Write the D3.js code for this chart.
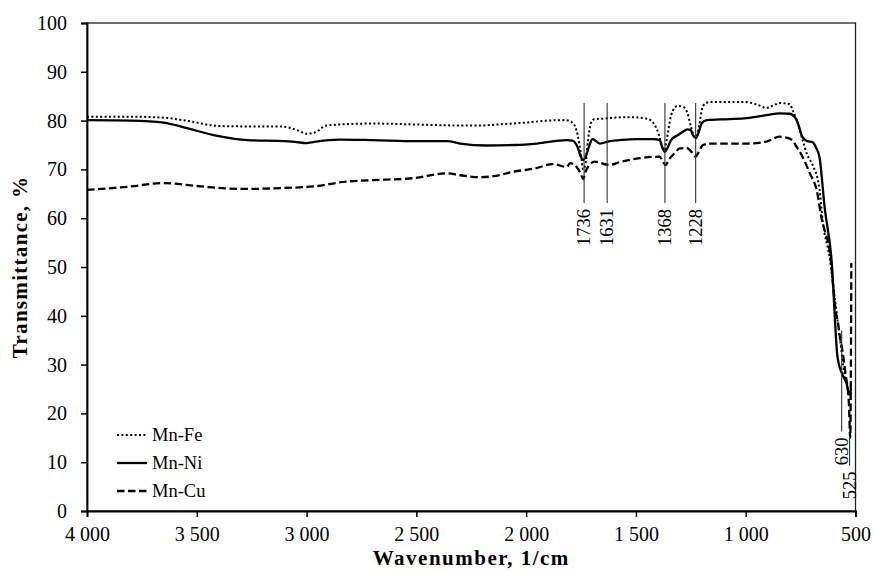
<!DOCTYPE html>
<html>
<head>
<meta charset="utf-8">
<script src="https://cdn.jsdelivr.net/npm/d3@7"></script>
<style>
  html, body { margin: 0; padding: 0; background: #fff; }
  svg { display: block; }
  text { font-family: "Liberation Serif", "Times New Roman", serif; fill: #000; }
</style>
</head>
<body>
<svg id="chart" width="874" height="572"></svg>
<script>
// ---------- data ----------
const seriesNames = ["Mn-Fe", "Mn-Ni", "Mn-Cu"];

// Mn-Fe (dotted): [wavenumber, transmittance %]
const mnFe = [
  [4000,80.8],[3800,80.8],[3650,80.6],[3550,80.0],[3400,78.9],[3250,78.8],[3120,78.8],
  [3040,78.0],[3000,77.3],[2960,77.6],[2910,79.0],[2800,79.3],[2700,79.4],[2500,79.2],
  [2300,79.0],[2210,79.0],[2100,79.3],[2000,79.6],[1900,80.0],[1820,80.1],[1790,79.6],
  [1765,77.0],[1750,73.0],[1740,70.0],[1730,71.0],[1718,76.0],[1705,79.5],[1690,80.3],
  [1650,80.4],[1600,80.6],[1520,80.7],[1450,80.4],[1420,79.5],[1395,77.0],[1380,74.5],
  [1370,74.0],[1360,76.0],[1345,80.0],[1333,82.0],[1310,83.0],[1285,82.8],[1265,81.5],
  [1248,78.5],[1235,76.8],[1225,76.6],[1212,79.0],[1195,83.0],[1164,83.8],[1100,83.8],
  [1000,83.8],[950,83.3],[905,82.6],[870,83.2],[846,83.6],[800,83.4],[785,82.0],
  [768,80.1],[741,76.0],[720,73.0],[696,71.0],[664,66.0],[650,59.6],[618,52.0],
  [590,42.0],[570,35.0],[550,28.0],[535,25.0],[525,24.0],[518,24.5]
];

// Mn-Ni (solid)
const mnNi = [
  [4000,80.1],[3800,80.0],[3650,79.6],[3550,78.5],[3400,76.8],[3270,76.0],[3100,75.8],
  [3045,75.6],[3000,75.4],[2970,75.6],[2900,76.0],[2850,76.1],[2700,76.0],[2500,75.8],
  [2360,75.8],[2300,75.3],[2180,74.9],[2050,75.0],[1950,75.3],[1815,76.0],[1790,75.9],
  [1765,74.5],[1750,72.5],[1740,71.9],[1730,72.5],[1715,74.5],[1698,76.2],[1688,76.0],
  [1665,75.3],[1620,75.8],[1574,76.0],[1500,76.2],[1420,76.2],[1392,76.0],[1380,74.5],
  [1368,73.6],[1355,74.5],[1340,76.0],[1310,77.0],[1290,77.6],[1265,78.2],[1250,78.0],
  [1240,77.0],[1228,76.4],[1215,77.5],[1200,79.5],[1178,80.1],[1073,80.3],[996,80.5],
  [905,81.1],[846,81.5],[800,81.4],[768,80.1],[741,76.6],[720,75.8],[696,75.6],
  [680,74.5],[664,72.5],[640,62.0],[609,51.4],[582,31.6],[560,28.0],[541,26.2],
  [527,23.8],[520,25.0]
];

// Mn-Cu (dashed)
const mnCu = [
  [4000,65.8],[3800,66.5],[3655,67.2],[3500,66.6],[3400,66.2],[3270,66.0],[3100,66.2],
  [2970,66.5],[2820,67.5],[2700,67.8],[2515,68.2],[2360,69.2],[2300,68.8],[2210,68.4],
  [2150,68.6],[2060,69.5],[1950,70.3],[1880,71.1],[1815,70.5],[1800,71.3],[1770,70.5],
  [1750,69.0],[1740,68.0],[1730,69.5],[1710,71.0],[1688,71.6],[1620,70.9],[1574,71.5],
  [1483,72.3],[1392,72.6],[1380,71.8],[1365,70.9],[1350,72.0],[1320,73.5],[1301,74.3],
  [1270,74.4],[1245,73.5],[1228,72.6],[1215,73.5],[1195,75.0],[1164,75.3],[996,75.3],
  [905,75.7],[846,76.7],[800,76.3],[780,75.5],[768,74.6],[741,72.6],[709,69.3],
  [677,65.8],[650,59.0],[641,57.6],[618,53.5],[590,41.0],[578,38.0],[572,36.0],
  [560,33.0],[545,28.0],[530,22.0],[524,15.0],[521,30.0],[519,50.8]
];

const xTicks = [4000, 3500, 3000, 2500, 2000, 1500, 1000, 500];
const yTicks = [0, 10, 20, 30, 40, 50, 60, 70, 80, 90, 100];

// peak markers: label, wavenumber where the marker is drawn, top and bottom (transmittance %)
const peakLabels  = ["1736", "1631", "1368", "1228", "630", "525"];
const peakWn      = [1736, 1631, 1368, 1228, 563, 527];
const peakTop     = [83.6, 83.6, 83.6, 83.6, 37.0, 15.0];
const peakBottom  = [63.1, 63.1, 63.1, 63.1, 16.3, 9.3];

// ---------- chart ----------
const svg = d3.select("#chart");
const margin = { left: 87, right: 874 - 855.5, top: 23, bottom: 572 - 511 };
const W = 874, H = 572;

const x = d3.scaleLinear().domain([4000, 500]).range([margin.left, W - margin.right]);
const y = d3.scaleLinear().domain([0, 100]).range([H - margin.bottom, margin.top]);

const loc = d3.formatLocale({ decimal: ".", thousands: " ", grouping: [3], currency: ["", ""] });
const fmt = loc.format(",d");

// frame
svg.append("rect")
  .attr("x", x(4000)).attr("y", y(100))
  .attr("width", x(500) - x(4000)).attr("height", y(0) - y(100))
  .attr("fill", "none").attr("stroke", "#222").attr("stroke-width", 1.3);

// axes
const gx = svg.append("g").attr("transform", `translate(0,${y(0)})`)
  .call(d3.axisBottom(x).tickValues(xTicks).tickFormat(fmt).tickSize(6).tickPadding(10));
const gy = svg.append("g").attr("transform", `translate(${x(4000)},0)`)
  .call(d3.axisLeft(y).tickValues(yTicks).tickSize(6).tickPadding(14));
[gx, gy].forEach(g => {
  g.select(".domain").attr("stroke", "#000").attr("stroke-width", 1.8);
  g.selectAll(".tick line").attr("stroke", "#000").attr("stroke-width", 1.5);
  g.selectAll(".tick text").style("font-family", '"Liberation Serif", serif')
    .style("font-size", "20px").attr("fill", "#111");
});

// series
const line = d3.line().x(d => x(d[0])).y(d => y(d[1])).curve(d3.curveMonotoneX);
const styles = [
  { data: mnFe, dash: "2,2.4", width: 2.0 },
  { data: mnNi, dash: null, width: 2.3 },
  { data: mnCu, dash: "7.5,3.5", width: 2.3 }
];
styles.forEach(s => {
  svg.append("path").datum(s.data)
    .attr("d", line)
    .attr("fill", "none")
    .attr("stroke", "#000")
    .attr("stroke-width", s.width)
    .attr("stroke-dasharray", s.dash)
    .attr("stroke-linejoin", "round");
});

// peak markers
const peaks = peakLabels.map((l, i) => ({ label: l, wn: peakWn[i], top: peakTop[i], bottom: peakBottom[i] }));
const pg = svg.append("g");
pg.selectAll("line").data(peaks).join("line")
  .attr("x1", d => x(d.wn)).attr("x2", d => x(d.wn))
  .attr("y1", d => y(d.top)).attr("y2", d => y(d.bottom))
  .attr("stroke", "#333").attr("stroke-width", 1.1);
pg.selectAll("text").data(peaks).join("text")
  .attr("transform", d => `translate(${x(d.wn)},${y(d.bottom) + 6}) rotate(-90)`)
  .attr("text-anchor", "end")
  .attr("dy", "0.33em")
  .style("font-size", "18.5px")
  .text(d => d.label);

// legend
const legend = svg.append("g");
const legY = [435, 463, 491];
seriesNames.forEach((name, i) => {
  legend.append("line")
    .attr("x1", 117).attr("x2", 147)
    .attr("y1", legY[i]).attr("y2", legY[i])
    .attr("stroke", "#000")
    .attr("stroke-width", styles[i].width)
    .attr("stroke-dasharray", styles[i].dash);
  legend.append("text")
    .attr("x", 152).attr("y", legY[i]).attr("dy", "0.35em")
    .style("font-size", "18.5px")
    .text(name);
});

// axis titles
svg.append("text")
  .attr("x", (x(4000) + x(500)) / 2).attr("y", 565)
  .attr("text-anchor", "middle")
  .style("font-size", "21px").style("font-weight", "bold").style("letter-spacing", "1.5px")
  .text("Wavenumber, 1/cm");
svg.append("text")
  .attr("transform", `translate(27,${(y(0) + y(100)) / 2}) rotate(-90)`)
  .attr("text-anchor", "middle")
  .style("font-size", "21px").style("font-weight", "bold").style("letter-spacing", "1.3px")
  .text("Transmittance, %");
</script>
</body>
</html>
